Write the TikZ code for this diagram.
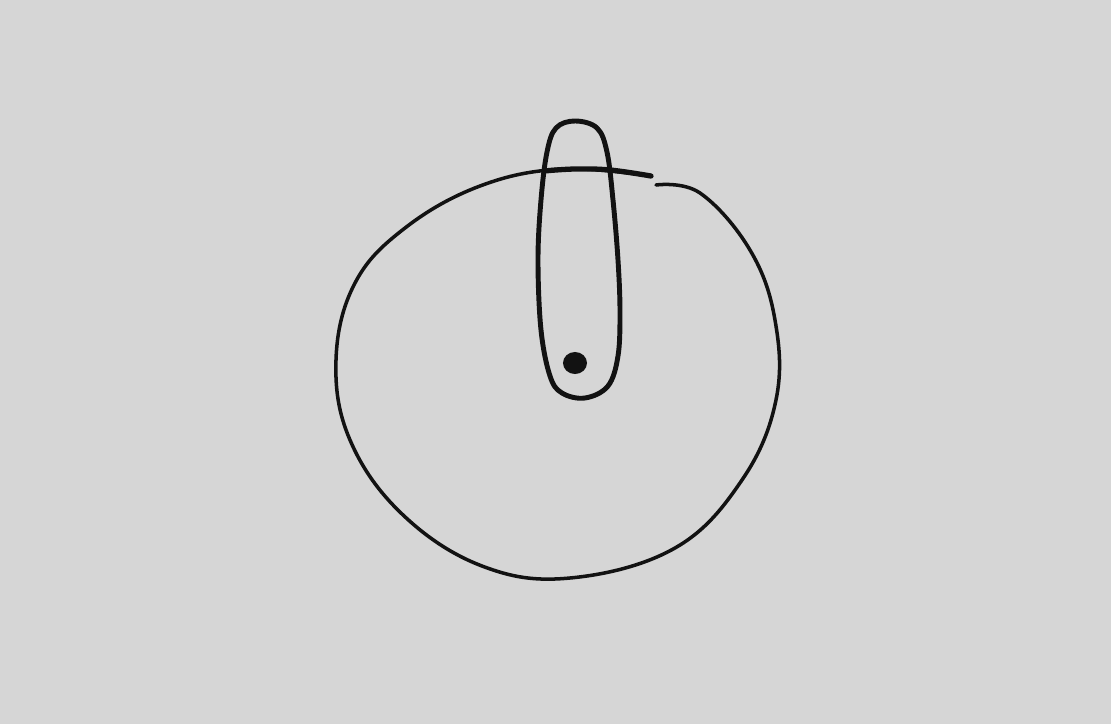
\documentclass[tikz,border=0pt]{standalone}
\usepackage{xcolor}
\usepackage{tikz}
\definecolor{paper}{RGB}{214,214,214}
\definecolor{ink}{RGB}{18,18,18}

\begin{document}
\begin{tikzpicture}[x=0.01cm, y=-0.01cm,
  rim/.style={draw=ink, line width=1.0pt, line cap=round, line join=round},
  tube/.style={draw=ink, line width=1.4pt, line join=round},
  spot/.style={fill=ink}]

\fill[paper] (0,0) rectangle (1111,724);
\useasboundingbox (0,0) rectangle (1111,724);

% big open ring, gap at top right
\draw[rim] plot[smooth, tension=0.65] coordinates {
  (656,185) (700,193) (750,250) (775,320) (776,400) (742,480) (675,548)
  (570,578) (482,566) (402,514) (350,440) (336,360) (355,283) (405,228)
  (480,186) (562,169) (651,176)};
\draw[rim, line width=1.5pt] plot[smooth, tension=0.65] coordinates {
  (544,171) (575,169) (610,170) (651,176)};

% long loop crossing the ring
\draw[tube] plot[smooth cycle, tension=0.6] coordinates {
  (575,121) (597,128) (607,152) (613,200) (618,260) (620,312) (618,356)
  (608,386) (585,398) (562,393) (550,376) (541,330) (538,260) (541,200)
  (547,152) (556,128)};

% the dot
\coordinate (dot) at (575,363);
\fill[spot] (dot) ellipse [x radius=0.12cm, y radius=0.11cm];
\end{tikzpicture}
\end{document}
